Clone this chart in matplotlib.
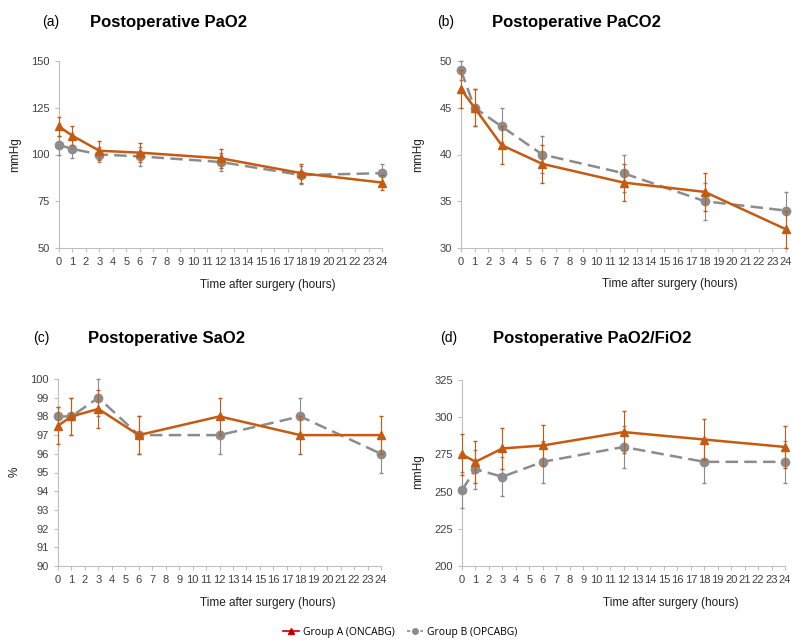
import numpy as np
import matplotlib
matplotlib.use("Agg")
import matplotlib.pyplot as plt
from matplotlib.lines import Line2D

plt.rcParams["font.family"] = ["Liberation Sans", "DejaVu Sans"]

hours = [0, 1, 3, 6, 12, 18, 24]

# (a) PaO2
pao2_a = [115, 110, 102, 101, 98, 90, 85]
pao2_a_err = [5, 5, 5, 5, 5, 5, 4]
pao2_b = [105, 103, 100, 99, 96, 89, 90]
pao2_b_err = [5, 5, 4, 5, 5, 5, 5]

# (b) PaCO2
paco2_a = [47, 45, 41, 39, 37, 36, 32]
paco2_a_err = [2, 2, 2, 2, 2, 2, 2]
paco2_b = [49, 45, 43, 40, 38, 35, 34]
paco2_b_err = [1, 2, 2, 2, 2, 2, 2]

# (c) SaO2
sao2_a = [97.5, 98, 98.4, 97, 98, 97, 97]
sao2_a_err = [1, 1, 1, 1, 1, 1, 1]
sao2_b = [98, 98, 99, 97, 97, 98, 96]
sao2_b_err = [0.5, 1, 1, 1, 1, 1, 1]

# (d) PaO2/FiO2
pf_a = [275, 270, 279, 281, 290, 285, 280]
pf_a_err = [14, 14, 14, 14, 14, 14, 14]
pf_b = [251, 265, 260, 270, 280, 270, 270]
pf_b_err = [12, 13, 13, 14, 14, 14, 14]

orange = "#c55a11"
grey = "#8c8c8c"
axcol = "#bfbfbf"

panels = [
    ("(a)", "Postoperative PaO2", "mmHg", pao2_a, pao2_a_err, pao2_b, pao2_b_err,
     (50, 150), [50, 75, 100, 125, 150]),
    ("(b)", "Postoperative PaCO2", "mmHg", paco2_a, paco2_a_err, paco2_b, paco2_b_err,
     (30, 50), [30, 35, 40, 45, 50]),
    ("(c)", "Postoperative SaO2", "%", sao2_a, sao2_a_err, sao2_b, sao2_b_err,
     (90, 100), list(range(90, 101))),
    ("(d)", "Postoperative PaO2/FiO2", "mmHg", pf_a, pf_a_err, pf_b, pf_b_err,
     (200, 325), [200, 225, 250, 275, 300, 325]),
]

W, H = 792, 640
fig = plt.figure(figsize=(W / 100, H / 100), dpi=100)

# pixel boxes: left, right, top, bottom
boxes = [(59, 382, 61, 248), (461, 786, 61, 248),
         (58, 381, 379, 566), (462, 785, 380, 566)]
tag_pos = [(42, 22), (437, 22), (33, 338), (440, 338)]
title_pos = [(90, 22), (492, 22), (88, 338), (493, 338)]
xlab_pos = [(200, 285), (602, 284), (200, 603), (603, 603)]
ylab_pos = [(15, 155), (418, 155), (15, 472), (418, 472)]

for i, (tag, title, ylab, a, ae, b, be, ylim, yticks) in enumerate(panels):
    l, r, t, bt = boxes[i]
    ax = fig.add_axes([l / W, 1 - bt / H, (r - l) / W, (bt - t) / H])
    ax.errorbar(hours, b, yerr=be, color=grey, ls=(0, (5, 2.5)), lw=1.8,
                marker="o", ms=6, ecolor=grey, elinewidth=0.8, capsize=1.5,
                clip_on=False, zorder=3)
    ax.errorbar(hours, a, yerr=ae, color=orange, ls="-", lw=1.8,
                marker="^", ms=6, ecolor=orange, elinewidth=0.8, capsize=1.5,
                clip_on=False, zorder=4)
    ax.set_xlim(0, 24)
    ax.set_ylim(*ylim)
    ax.set_xticks(range(25))
    ax.set_yticks(yticks)
    ax.tick_params(labelsize=8, colors="#404040", length=3, width=0.8)
    ax.tick_params(axis="both", color=axcol)
    for s in ["top", "right"]:
        ax.spines[s].set_visible(False)
    for s in ["left", "bottom"]:
        ax.spines[s].set_color(axcol)
    fig.text(tag_pos[i][0] / W, 1 - tag_pos[i][1] / H, tag, fontsize=10,
             va="center", ha="left")
    fig.text(title_pos[i][0] / W, 1 - title_pos[i][1] / H, title, fontsize=12,
             fontweight="bold", va="center", ha="left")
    fig.text(xlab_pos[i][0] / W, 1 - xlab_pos[i][1] / H, "Time after surgery (hours)",
             fontsize=8.5, va="center", ha="left", color="#202020")
    fig.text(ylab_pos[i][0] / W, 1 - ylab_pos[i][1] / H, ylab, fontsize=8.5,
             rotation=90, va="center", ha="center", color="#202020")

handles = [
    Line2D([], [], color="#c00000", marker="^", ms=5, lw=1.2),
    Line2D([], [], color=grey, marker="o", ms=4, lw=1.2, ls=(0, (2, 2))),
]
fig.legend(handles, ["Group A (ONCABG)", "Group B (OPCABG)"], loc="center",
           bbox_to_anchor=(400 / W, 1 - 632 / H), ncol=2, frameon=False,
           fontsize=7.5, handlelength=1.5, columnspacing=1.2, handletextpad=0.4,
           prop={"family": "Open Sans", "size": 7.5})

fig.savefig("out.png", dpi=100)
